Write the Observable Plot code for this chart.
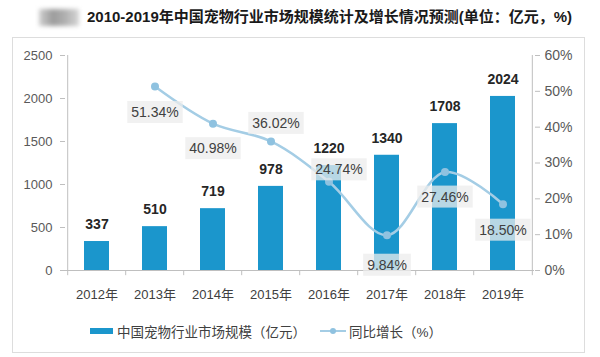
<!DOCTYPE html>
<html><head><meta charset="utf-8">
<script src="https://cdn.jsdelivr.net/npm/d3@7"></script>
<script src="https://cdn.jsdelivr.net/npm/@observablehq/plot@0.6"></script>
<style>
body{margin:0;background:#fff;}
#wrap{position:relative;width:600px;height:357px;overflow:hidden;font-family:"Liberation Sans",Arial,"Noto Sans CJK SC",sans-serif;}
#frame{position:absolute;left:12px;top:37px;width:573px;height:316px;border:1px solid #dddddd;box-sizing:border-box;}
#logo{position:absolute;left:39px;top:9px;width:40px;height:17px;background:linear-gradient(90deg,#cfcfcf,#9c9c9c 35%,#b0b0b0 65%,#d6d6d6);filter:blur(2px);}
#title{position:absolute;left:87px;top:8px;font-size:15px;font-weight:bold;color:#1a1a1a;white-space:nowrap;line-height:18px;}
#chart{position:absolute;left:0;top:0;}
#legend{position:absolute;top:322px;left:0;width:600px;height:18px;font-size:13.5px;color:#404040;}
.li{position:absolute;top:0;display:flex;align-items:center;height:18px;white-space:nowrap;}
</style>
</head><body>
<div id="wrap">
  <div id="frame"></div>
  <div id="logo"></div>
  <div id="title"></div>
  <div id="chart"></div>
  <div id="legend"></div>
</div>
<script>
// ---- data ----
const titleText = "2010-2019年中国宠物行业市场规模统计及增长情况预测(单位：亿元，%)";
const years = ["2012年","2013年","2014年","2015年","2016年","2017年","2018年","2019年"];
const marketSize = [337, 510, 719, 978, 1220, 1340, 1708, 2024];
const growthYears = ["2013年","2014年","2015年","2016年","2017年","2018年","2019年"];
const growthPct = [51.34, 40.98, 36.02, 24.74, 9.84, 27.46, 18.50];
const leftTicks = [0, 500, 1000, 1500, 2000, 2500];
const rightTicks = [0, 10, 20, 30, 40, 50, 60];
const seriesNames = ["中国宠物行业市场规模（亿元）", "同比增长（%）"];

// ---- layout / style ----
const W = 600, H = 357, mL = 65, mR = 66, mT = 55, mB = 87;
const step = (W - mL - mR) / years.length;
const yMax = 2500, pctMax = 60, k = yMax / pctMax;
const barColor = "#1b96cc", lineColor = "#a4cde5", dotColor = "#8fc2e0", axisColor = "#bfbfbf";
const font = '"Liberation Sans", Arial, "Noto Sans CJK SC", sans-serif';
const labelPlacement = [
  {dx: 0, dy: 26}, {dx: 0, dy: 25}, {dx: 5, dy: -18}, {dx: 10, dy: -12},
  {dx: 0, dy: 30}, {dx: 0, dy: 25}, {dx: 0, dy: 26}
];

document.getElementById("title").textContent = titleText;

const bars = years.map((year, i) => ({year, value: marketSize[i]}));
const growth = growthYears.map((year, i) => ({year, pct: growthPct[i], v: growthPct[i] * k}));

const pctLabelMarks = growth.map((d, i) => Plot.text([d], {
  x: "year", y: "v", text: g => g.pct.toFixed(2) + "%",
  dx: labelPlacement[i].dx, dy: labelPlacement[i].dy,
  fontSize: 14, fill: "#404040"
}));

const plot = Plot.plot({
  width: W, height: H, marginTop: mT, marginBottom: mB, marginLeft: mL, marginRight: mR,
  style: {fontFamily: font, fontSize: "13px", color: "#595959", background: "transparent", overflow: "visible"},
  x: {domain: years, paddingInner: 0.57, paddingOuter: 0.285},
  y: {domain: [0, yMax]},
  marks: [
    Plot.barY(bars, {x: "year", y: "value", fill: barColor}),
    // axes lines
    Plot.ruleY([0], {stroke: axisColor}),
    Plot.ruleX([years[0]], {x: d => d, dx: -step / 2, y1: 0, y2: yMax, stroke: axisColor}),
    Plot.ruleX([years[years.length - 1]], {x: d => d, dx: step / 2, y1: 0, y2: yMax, stroke: axisColor}),
    // x tick marks at category boundaries
    Plot.ruleX(years, {x: d => d, dx: -step / 2, y1: 0, y2: -60, stroke: axisColor}),
    Plot.ruleX([years[years.length - 1]], {x: d => d, dx: step / 2, y1: 0, y2: -60, stroke: axisColor}),
    Plot.axisY({anchor: "left", ticks: leftTicks, tickFormat: d => String(d), tickSize: 5, tickPadding: 8, stroke: axisColor, fill: "#595959", fontSize: 13, label: null}),
    Plot.axisY({anchor: "right", ticks: rightTicks.map(p => p * k), tickFormat: d => Math.round(d / k) + "%", tickSize: 5, tickPadding: 5, stroke: axisColor, fill: "#595959", fontSize: 14, label: null}),
    Plot.axisX({tickSize: 0, tickPadding: 19, fontSize: 13, fill: "#404040", label: null}),
    Plot.text(bars, {x: "year", y: "value", text: d => String(d.value), dy: -17, fontSize: 14, fontWeight: "bold", fill: "#262626"}),
    Plot.line(growth, {x: "year", y: "v", stroke: lineColor, strokeWidth: 2.5, curve: "catmull-rom"}),
    Plot.dot(growth, {x: "year", y: "v", r: 4, fill: dotColor}),
    ...pctLabelMarks
  ]
});
document.getElementById("chart").appendChild(plot);

// light boxes behind the growth labels
plot.querySelectorAll('g[aria-label="text"] text').forEach(t => {
  if (!/%$/.test(t.textContent)) return;
  const b = t.getBBox();
  const r = document.createElementNS("http://www.w3.org/2000/svg", "rect");
  r.setAttribute("x", b.x - 4);
  r.setAttribute("y", b.y - 3);
  r.setAttribute("width", b.width + 8);
  r.setAttribute("height", b.height + 6);
  r.setAttribute("fill", "rgba(236,236,236,0.75)");
  if (t.getAttribute("transform")) r.setAttribute("transform", t.getAttribute("transform"));
  t.parentNode.insertBefore(r, t);
});

// legend
const legend = document.getElementById("legend");
const l1 = document.createElement("div");
l1.className = "li"; l1.style.left = "90px";
l1.innerHTML = `<span style="display:inline-block;width:23px;height:6px;background:${barColor};margin-right:4px"></span><span></span>`;
l1.lastChild.textContent = seriesNames[0];
const l2 = document.createElement("div");
l2.className = "li"; l2.style.left = "320px";
l2.innerHTML = `<svg width="26" height="10" style="margin-right:3px"><line x1="0" y1="5" x2="26" y2="5" stroke="${lineColor}" stroke-width="2"/><circle cx="13" cy="5" r="3" fill="${dotColor}"/></svg><span></span>`;
l2.lastChild.textContent = seriesNames[1];
legend.appendChild(l1); legend.appendChild(l2);
</script>
</body></html>
